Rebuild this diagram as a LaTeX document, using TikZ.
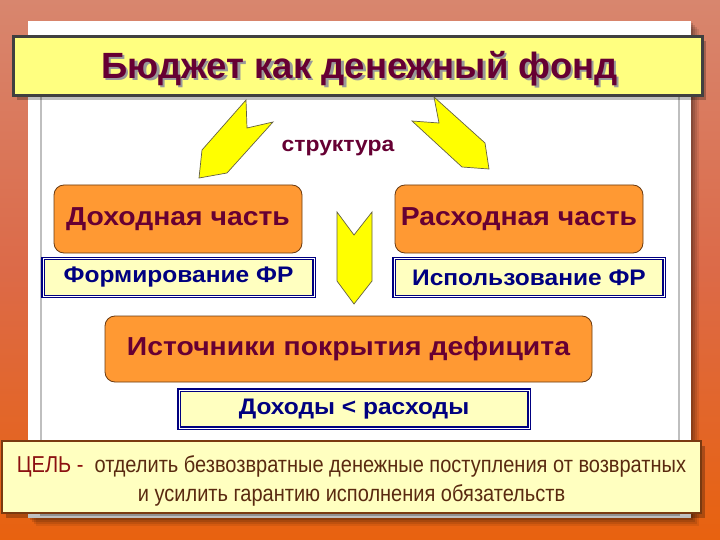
\documentclass[tikz,border=0pt]{standalone}
\usepackage{fontspec}
\setmainfont{Liberation Sans}
\newfontfamily\narrowfont[FakeStretch=0.87]{Liberation Sans}
\newfontfamily\wideB[FakeStretch=1.09]{Liberation Sans}
\usetikzlibrary{calc}
\definecolor{bgtop}{HTML}{D8866E}
\definecolor{bgmid}{HTML}{DC6A48}
\definecolor{bgbot}{HTML}{E8620F}
\definecolor{maroon}{HTML}{660033}
\definecolor{navyb}{HTML}{000080}
\definecolor{orfill}{HTML}{FF9933}
\definecolor{orline}{HTML}{6B3A10}
\definecolor{ltyel}{HTML}{FFFFC0}
\definecolor{titleyel}{HTML}{FFFF80}
\definecolor{arrowyel}{HTML}{FFFF00}
\definecolor{barline}{HTML}{7A3A10}
\definecolor{bartext}{HTML}{5A2A10}
\definecolor{celred}{HTML}{8B1010}
\tikzset{
  orbox/.style={draw=orline, line width=0.8pt, fill=orfill, rounded corners=10pt,
    text=maroon, font=\wideB\fontsize{26}{30}\selectfont\bfseries, inner sep=0pt},
  ylbox/.style={draw=navyb, line width=1.3pt, double=white, double distance=0.8pt,
    fill=ltyel, text=navyb, font=\wideB\fontsize{22.5}{26}\selectfont\bfseries, inner sep=0pt},
  yarrow/.style={fill=arrowyel, draw=black!70!yellow, line width=0.7pt, line join=miter},
}
\begin{document}
\begin{tikzpicture}[x=1pt,y=-1pt]
\useasboundingbox (0,0) rectangle (720,540);
% background
\shade[top color=bgtop, bottom color=bgbot, middle color=bgmid] (0,0) rectangle (720,540);
% white panel shadow
\foreach \i/\o in {8/0.08,6/0.1,4/0.12,2/0.15}{
  \fill[black, opacity=\o] ($(28,21)+(\i,\i)$) rectangle ($(691,518)+(\i,\i)$);
}
\fill[white] (28,21) rectangle (691,518);
\draw[black!25, line width=2pt] (41,46) rectangle (679,515);
% title bar
\fill[black, opacity=0.25] (17,41) rectangle (706,100);
\node[draw=black!75, line width=3pt, fill=titleyel, minimum width=689pt, minimum height=59pt,
  inner sep=0pt] (titlebar) at (357.5,66.5) {};
\node[font=\fontsize{36.5}{42}\selectfont\bfseries] (title) at (359.5,69.5)
  {\makebox[0pt][l]{\hspace{2.5pt}\raisebox{-2.5pt}{\textcolor{black!40}{Бюджет как денежный фонд}}}\textcolor{maroon}{Бюджет как денежный фонд}};
% arrows
\draw[yarrow] (246,100) -- (247,128) -- (273,122) -- (227,173) -- (199,178) -- (202,150) -- cycle;
\draw[yarrow] (434,97) -- (439,123) -- (412,121) -- (462,167) -- (489,169) -- (485,143) -- cycle;
\draw[yarrow] (337,212) -- (354,235) -- (372,212) -- (372,281) -- (354,304) -- (337,281) -- cycle;
\node[text=maroon, font=\wideB\fontsize{21}{25}\selectfont\bfseries] (struct) at (338,148) {структура};
% boxes
\node[orbox, minimum width=248pt, minimum height=68pt] (dohod) at (178,219) {Доходная часть};
\node[orbox, minimum width=248pt, minimum height=68pt] (rashod) at (519,219) {Расходная часть};
\node[ylbox, minimum width=271pt, minimum height=38pt] (form) at (178.5,277.5) {Формирование ФР};
\node[ylbox, minimum width=270pt, minimum height=38pt] (ispol) at (529,277.5) {Использование ФР};
\node[orbox, minimum width=487pt, minimum height=66pt] (ist) at (348.5,349) {Источники покрытия дефицита};
\node[ylbox, minimum width=350pt, minimum height=38pt] (dr) at (354,409) {Доходы < расходы};
% bottom bar
\fill[black, opacity=0.25] (6,446) rectangle (705,518);
\node[draw=barline, line width=2pt, fill=ltyel, minimum width=699pt, minimum height=72pt,
  inner sep=0pt] (tselbar) at (351.5,477) {};
\node[font=\narrowfont\fontsize{23}{29}\selectfont, text=bartext, align=center] (tsel) at (351.5,481)
  {\textcolor{celred}{ЦЕЛЬ -}\ \ отделить безвозвратные денежные поступления от возвратных\\
   и усилить гарантию исполнения обязательств};
\end{tikzpicture}
\end{document}
